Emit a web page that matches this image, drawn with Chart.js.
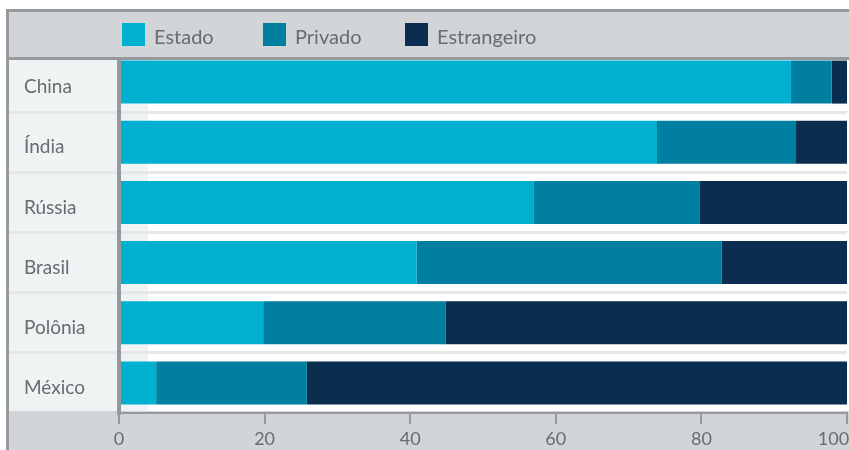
<!DOCTYPE html>
<html>
<head>
<meta charset="utf-8">
<script src="https://cdn.jsdelivr.net/npm/chart.js@4/dist/chart.umd.min.js"></script>
<style>
  html, body { margin: 0; padding: 0; background: #ffffff; }
  #wrap { width: 849px; height: 450px; position: relative; }
</style>
</head>
<body>
<div id="wrap"><canvas id="c" width="849" height="450"></canvas></div>
<script>
// ---- data ----
const categories = ['China', 'Índia', 'Rússia', 'Brasil', 'Polônia', 'México'];
const seriesNames = ['Estado', 'Privado', 'Estrangeiro'];
const estado      = [92.3, 73.9, 57.0, 40.9, 19.8, 5.1];
const privado     = [5.6, 19.1, 22.8, 41.9, 25.1, 20.7];
const estrangeiro = [2.1, 7.0, 20.2, 17.2, 55.1, 74.2];
const xTicks = [0, 20, 40, 60, 80, 100];

// ---- styles ----
const colors = ['#00b0d0', '#007fa1', '#0b2d50'];
const FONT = 'Lato';
const TEXT = '#6a6b6e';
const FRAME = '#97999c';
const BAND = '#d1d5d8';
const COLBG = '#eef3f4';
const GRID = '#e5e7e8';

const seriesValues = [estado, privado, estrangeiro];

const decor = {
  id: 'decor',
  beforeDraw(chart) {
    const ctx = chart.ctx;
    const a = chart.chartArea;
    ctx.save();
    // label column background
    ctx.fillStyle = COLBG;
    ctx.fillRect(9, 60, a.left - 9, 351);
    // narrow light strip at start of plot
    ctx.fillRect(a.left, 60, 29, 351);
    // bottom band
    ctx.fillStyle = BAND;
    ctx.fillRect(9, 411, chart.width - 9, chart.height - 411);
    ctx.restore();
  },
  afterDraw(chart) {
    const ctx = chart.ctx;
    ctx.save();
    // legend band
    ctx.fillStyle = BAND;
    ctx.fillRect(9, 12, chart.width - 9, 45);
    // frame lines
    ctx.fillStyle = FRAME;
    ctx.fillRect(6, 9, chart.width - 6, 3);
    ctx.fillRect(6, 9, 3, chart.height - 9);
    ctx.fillRect(9, 57, chart.width - 9, 3);
    // legend items
    const xs = [122, 263, 405];
    ctx.font = '20px ' + FONT;
    ctx.textBaseline = 'alphabetic';
    ctx.textAlign = 'left';
    chart.data.datasets.forEach((ds, i) => {
      ctx.fillStyle = ds.backgroundColor;
      ctx.fillRect(xs[i], 23, 23, 23);
      ctx.fillStyle = TEXT;
      ctx.fillText(ds.label, xs[i] + 32, 43.5);
    });
    ctx.restore();
  }
};

new Chart(document.getElementById('c'), {
  type: 'bar',
  data: {
    labels: categories,
    datasets: seriesNames.map((name, i) => ({
      label: name,
      data: seriesValues[i],
      backgroundColor: colors[i],
      borderWidth: 0,
      categoryPercentage: 1,
      barPercentage: 0.715
    }))
  },
  options: {
    indexAxis: 'y',
    responsive: false,
    animation: false,
    layout: { padding: { left: 24, right: 2, top: 52, bottom: 0 } },
    plugins: { legend: { display: false }, tooltip: { enabled: false } },
    scales: {
      x: {
        stacked: true,
        min: 0, max: 100,
        afterBuildTicks(scale) { scale.ticks = xTicks.map(v => ({ value: v })); },
        afterFit(scale) { scale.height = 37; scale.paddingLeft = 0; scale.paddingRight = 0; },
        grid: { drawOnChartArea: false, drawTicks: true, tickLength: 11, color: FRAME, lineWidth: 2 },
        border: { display: true, color: FRAME, width: 2 },
        ticks: {
          color: TEXT, font: { family: FONT, size: 18 }, padding: 4, maxRotation: 0, autoSkip: false,
          callback: (v, i, t) => i === t.length - 1 ? String(v) + '\u2002\u2002\u2002' : String(v)
        }
      },
      y: {
        stacked: true,
        afterFit(scale) { scale.width = 95; scale.paddingTop = 0; scale.paddingBottom = 0; },
        grid: {
          offset: true,
          drawOnChartArea: true,
          drawTicks: true,
          tickLength: 110,
          lineWidth: 3,
          color: c => (c.type === 'tick' && c.index > 0) ? GRID : 'rgba(0,0,0,0)'
        },
        border: { display: true, color: FRAME, width: 4, z: 1 },
        ticks: { color: TEXT, font: { family: FONT, size: 19 }, crossAlign: 'far', labelOffset: 5, padding: 0 }
      }
    }
  },
  plugins: [decor]
});
</script>
</body>
</html>
